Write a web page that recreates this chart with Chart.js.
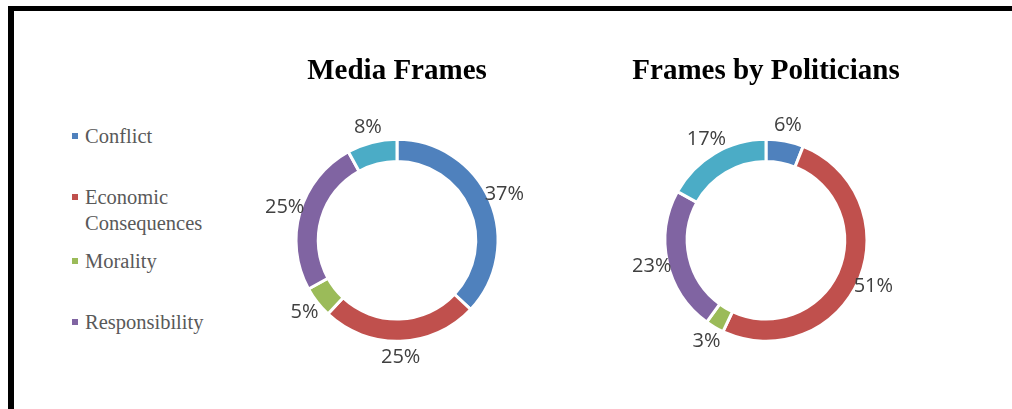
<!DOCTYPE html>
<html>
<head>
<meta charset="utf-8">
<script src="https://cdn.jsdelivr.net/npm/chart.js@4.4.1/dist/chart.umd.min.js"></script>
<style>
  html, body { margin: 0; padding: 0; background: #fff; }
  body { width: 1012px; height: 409px; position: relative; overflow: hidden; }
  #frame { position: absolute; left: 8px; top: 6px; width: 1100px; height: 500px;
           border-top: 5px solid #000; border-left: 6px solid #000; box-sizing: border-box; }
  .wrap { position: absolute; top: 40px; width: 300px; height: 369px; }
  #legend { position: absolute; left: 0; top: 0; }
  .item { position: absolute; left: 72px; width: 150px; font-family: "Liberation Serif", "Times New Roman", serif;
          font-size: 20.5px; line-height: 26px; color: #595959; padding-left: 13px; box-sizing: border-box; }
  .item .sw { position: absolute; left: 0; top: 10px; width: 6px; height: 6px; }
</style>
</head>
<body>
<div id="frame"></div>
<div id="legend"></div>
<div class="wrap" style="left:247px"><canvas id="c1" width="300" height="369"></canvas></div>
<div class="wrap" style="left:616px"><canvas id="c2" width="300" height="369"></canvas></div>
<script>
// ---- data ----
const categories = ["Conflict", "Economic Consequences", "Morality", "Responsibility", "Human Interest"];
const mediaFrames = [37, 25, 5, 25, 8];
const politicianFrames = [6, 51, 3, 23, 17];
const chartTitles = ["Media Frames", "Frames by Politicians"];
const legendShown = 4;

// ---- style ----
const colors = ["#4F81BD", "#C0504D", "#9BBB59", "#8064A2", "#4BACC6"];
const legendTops = [123, 184, 248, 309];

// legend (HTML)
const lg = document.getElementById('legend');
categories.slice(0, legendShown).forEach((name, i) => {
  const d = document.createElement('div');
  d.className = 'item';
  d.style.top = legendTops[i] + 'px';
  d.style.width = (name.length > 16 ? 140 : 200) + 'px';
  const sw = document.createElement('span');
  sw.className = 'sw';
  sw.style.background = colors[i];
  d.appendChild(sw);
  d.appendChild(document.createTextNode(name));
  lg.appendChild(d);
});

const labelPlugin = {
  id: 'pctLabels',
  afterDatasetsDraw(chart) {
    const ctx = chart.ctx;
    const meta = chart.getDatasetMeta(0);
    const data = chart.data.datasets[0].data;
    const total = data.reduce((a, b) => a + b, 0);
    ctx.save();
    ctx.font = '20px "Open Sans", sans-serif';
    ctx.fillStyle = '#404040';
    ctx.textAlign = 'center';
    ctx.textBaseline = 'middle';
    meta.data.forEach((arc, i) => {
      const p = arc.getProps(['x', 'y', 'startAngle', 'endAngle'], true);
      const mid = (p.startAngle + p.endAngle) / 2;
      const r = 117;
      const x = p.x + Math.cos(mid) * r;
      const y = p.y + Math.sin(mid) * r;
      ctx.fillText(Math.round(data[i] / total * 100) + '%', x, y);
    });
    ctx.restore();
  }
};

function makeChart(id, values, title) {
  return new Chart(document.getElementById(id), {
    type: 'doughnut',
    data: {
      labels: categories,
      datasets: [{
        data: values,
        backgroundColor: colors,
        borderColor: '#ffffff',
        borderWidth: 3,
        radius: 101,
        cutout: '78%'
      }]
    },
    options: {
      responsive: false,
      animation: false,
      events: [],
      layout: { padding: { top: 0, bottom: 27.8, left: 0, right: 0 } },
      plugins: {
        legend: { display: false },
        tooltip: { enabled: false },
        title: {
          display: true,
          text: title,
          color: '#000',
          font: { family: '"Liberation Serif", "Times New Roman", serif', size: 29, weight: 'bold', lineHeight: 1.2 },
          padding: { top: 14.6, bottom: 10 }
        }
      }
    },
    plugins: [labelPlugin]
  });
}

makeChart('c1', mediaFrames, chartTitles[0]);
makeChart('c2', politicianFrames, chartTitles[1]);
</script>
</body>
</html>
